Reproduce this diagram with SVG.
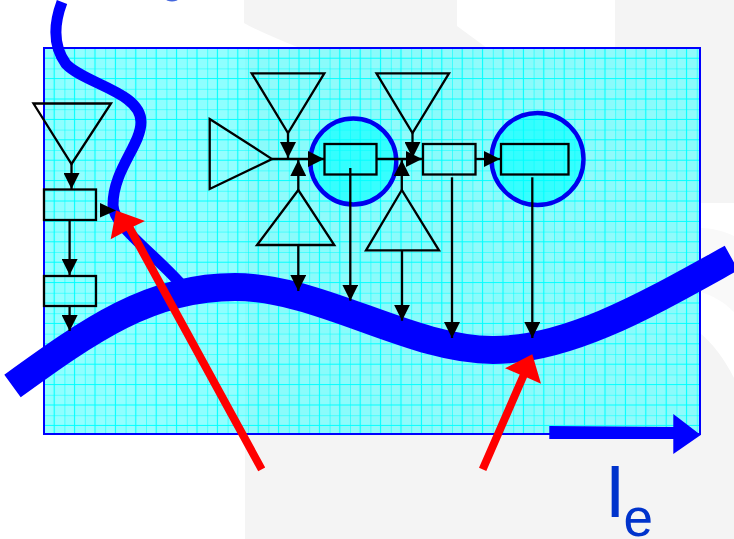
<svg xmlns="http://www.w3.org/2000/svg" width="734" height="539" viewBox="0 0 734 539">
<style>
.shape{fill:none;stroke:#000;stroke-width:2.3;stroke-linejoin:miter}
.wire{fill:none;stroke:#000;stroke-width:2.3;marker-end:url(#head)}
.ring{fill:#00ffff;fill-opacity:.62;stroke:#0000ee;stroke-width:4.4}
.red{fill:#ff0000}
.curve{fill:none;stroke:#0000ff}
text{font-family:"Liberation Sans",Arial,sans-serif;fill:#0033cc}
</style>
<defs>
<marker id="head" markerUnits="userSpaceOnUse" markerWidth="16" markerHeight="16" refX="16" refY="8" orient="auto"><path d="M0,0L16,8L0,16z" fill="#000"/></marker>
<pattern id="grid" patternUnits="userSpaceOnUse" x="44" y="48" width="20.4" height="20.4"><rect width="10.2" height="10.2" fill="#00ffff" fill-opacity=".04"/><rect x="10.2" y="10.2" width="10.2" height="10.2" fill="#00ffff" fill-opacity=".04"/><path d="M0,0H20.4M0,10.2H20.4M0,0V20.4M10.2,0V20.4" fill="none" stroke="#00ffff" stroke-width="1.1"/></pattern>
</defs>
<rect width="734" height="539" fill="#fff"/>
<g id="watermark">
<path d="M244,0H457V26L487,48H300C280,40 260,32 244,23z" fill="#f4f4f4"/>
<rect x="615" width="119" height="48" fill="#f4f4f4"/>
<rect x="700" y="48" width="34" height="155" fill="#f4f4f4"/>
<rect x="245" y="48" width="455" height="386" fill="#f9f9f9"/>
<path d="M700,228C712,228 724,231 734,236V312C724,302 712,295 700,292z" fill="#f9f9f9"/>
<path d="M700,333C712,343 724,358 734,378V539H245V434H700z" fill="#f4f4f4"/>
</g>
<ellipse cx="172" cy="-1" rx="6" ry="2.6" fill="#4466dd"/>
<g id="panel">
<rect x="44" y="48" width="656" height="386" fill="#00ffff" fill-opacity=".42" stroke="none"/>
<rect x="44" y="48" width="656" height="386" fill="url(#grid)" stroke="none"/>
<rect x="44" y="48" width="656" height="386" fill="none" stroke="#0000ff" stroke-width="2"/>
</g>
<g id="curves">
<path id="thin-curve" class="curve" stroke-width="11" d="M62,2C56,18 50,42 66,64C85,84 141,92 141,122C141,145 113,170 113,205C113,225 150,250 180,283"/>
<path id="thick-curve" class="curve" stroke-width="28" d="M12.5,386C90,330 150,287 235,287C320,287 410,350 493,350C570,350 650,303 731.5,258"/>
</g>
<g id="circle-1"><circle class="ring" cx="353.3" cy="161.5" r="43"/></g>
<g id="circle-2"><circle class="ring" cx="537.5" cy="159" r="46"/></g>
<g id="tri-left"><polygon class="shape" points="33.5,103.5 111,103.5 71.5,164"/></g>
<g id="box-left-1"><rect class="shape" x="44" y="189.5" width="52" height="30.5"/></g>
<g id="box-left-2"><rect class="shape" x="44" y="276" width="52" height="30"/></g>
<g id="tri-right"><polygon class="shape" points="209.7,119 272,159 209.7,189"/></g>
<g id="tri-down-1"><polygon class="shape" points="251.7,73.3 324.3,73.3 288,133"/></g>
<g id="tri-up-1"><polygon class="shape" points="298.3,190 257,245 334.3,245"/></g>
<g id="box-1"><rect class="shape" x="324.5" y="144" width="52" height="30.5"/></g>
<g id="tri-down-2"><polygon class="shape" points="376.5,73.3 449,73.3 412.5,133"/></g>
<g id="tri-up-2"><polygon class="shape" points="401.8,190 366,250.3 439,250.3"/></g>
<g id="box-3"><rect class="shape" x="423" y="144" width="52.5" height="30.5"/></g>
<g id="box-4"><rect class="shape" x="501" y="144" width="67.5" height="30.5"/></g>
<g id="connectors">
<line class="wire" x1="71.5" y1="164" x2="71.5" y2="189"/>
<path d="M100,203L116,210.5L100,217.5z" fill="#000"/>
<line class="wire" x1="69.6" y1="220" x2="69.6" y2="275"/>
<line class="wire" x1="69.6" y1="306" x2="69.6" y2="331"/>
<line class="wire" x1="272" y1="159" x2="324" y2="159"/>
<line class="wire" x1="288" y1="133" x2="288" y2="158"/>
<line class="wire" x1="298.3" y1="190" x2="298.3" y2="160"/>
<line class="wire" x1="298.3" y1="245" x2="298.3" y2="291"/>
<line class="wire" x1="350.3" y1="168" x2="350.3" y2="300.7"/>
<line class="wire" x1="412.5" y1="133" x2="412.5" y2="158"/>
<line class="wire" x1="376.5" y1="159" x2="422" y2="159"/>
<line class="wire" x1="401.8" y1="190" x2="401.8" y2="160"/>
<line class="wire" x1="402" y1="250" x2="402" y2="320.7"/>
<line class="wire" x1="475.5" y1="159" x2="500" y2="159"/>
<line class="wire" x1="452" y1="177.3" x2="452" y2="338"/>
<line class="wire" x1="532.3" y1="177.3" x2="532.3" y2="338"/>
<path class="red" d="M116,210.5L145,221L133.5,226.6L265.2,467.4L258.2,471.2L126.5,230.8L110.7,239.3z"/>
<path class="red" d="M532.3,354.3L541,383.7L527,377.6L486.3,470.9L479,467.7L519.7,374.4L505,368.3z"/>
<path d="M549.3,426L673.3,427V414L700.7,435L673.3,454V439L549.3,439z" fill="#0000ff"/>
</g>
<g id="label"><text x="604.7" y="516.7" font-size="75">I</text><text x="623.6" y="536" font-size="53">e</text></g>
</svg>
